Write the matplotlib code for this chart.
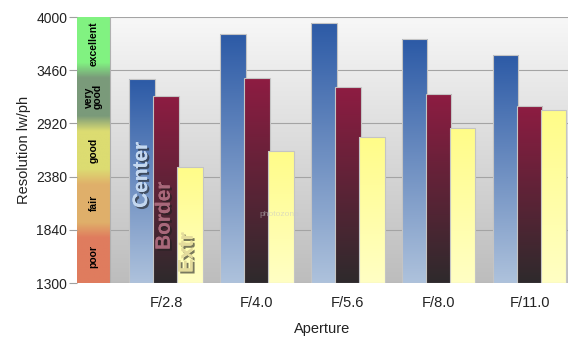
import numpy as np
import matplotlib
matplotlib.use("Agg")
import matplotlib.pyplot as plt
import matplotlib.patheffects as pe
from matplotlib.colors import to_rgb

plt.rcParams['font.family'] = ['Liberation Sans', 'DejaVu Sans']

# Resolution values (lw/ph) per aperture
apertures = ['F/2.8', 'F/4.0', 'F/5.6', 'F/8.0', 'F/11.0']
center = [3370, 3830, 3940, 3775, 3615]
border = [3200, 3380, 3285, 3220, 3100]
extreme = [2478, 2645, 2785, 2870, 3055]

yticks = [1300, 1840, 2380, 2920, 3460, 4000]
rating_names = ['poor', 'fair', 'good', 'very\ngood', 'excellent']
rating_colors = ['#e07c5e', '#e0b06a', '#dcdc72', '#7a9a7a', '#82f282']

ymin, ymax = 1300, 4000
x = np.arange(len(apertures))
xleft, band_right, xright = -0.98, -0.616, 4.42

fig = plt.figure(figsize=(5.68, 3.41), dpi=100)
ax = fig.add_axes([0.1356, 0.170, 0.864, 0.780])
ax.set_xlim(xleft, xright)
ax.set_ylim(ymin, ymax)

# plot area background: light at top, grey at bottom
bg = np.linspace(0.97, 0.74, 256)[:, None] * np.ones((1, 2))
ax.imshow(np.dstack([bg, bg, bg]), extent=[band_right, xright, ymin, ymax],
          aspect='auto', origin='upper', zorder=0)

# rating band on the left with soft transitions
ys = np.linspace(ymin, ymax, 540)
idx = np.clip(((ys - ymin) // 540).astype(int), 0, 4)
cols = np.array([to_rgb(rating_colors[i]) for i in idx])
n = 31
k = np.ones(n) / n
cols = np.stack([np.convolve(np.pad(cols[:, c], n // 2, mode='edge'), k, mode='valid')
                 for c in range(3)], axis=1)
ax.imshow(cols[:, None, :], extent=[xleft, band_right, ymin, ymax],
          aspect='auto', origin='lower', zorder=1)
for i, name in enumerate(rating_names):
    ax.text((xleft + band_right) / 2, ymin + 540 * i + 270, name, rotation=90,
            ha='center', va='center', fontsize=7.5, fontweight='bold',
            linespacing=0.85, zorder=2)
ax.axvline(band_right, color='#b0b0b0', lw=0.8, zorder=1.5)

for yt in yticks:
    ax.axhline(yt, xmin=(band_right - xleft) / (xright - xleft), color='#a4a4a4',
               lw=0.8, zorder=1)

# gradient filled bars, each series stacked above the previous one
width, step = 0.28, 0.264
series = [
    (center, -step, '#2c5aa6', '#aec2dc'),
    (border, 0.0, '#8e1c42', '#2e2a2c'),
    (extreme, step, '#fffc88', '#ffffc4'),
]
for j, (vals, off, top_c, bot_c) in enumerate(series):
    z = 3 + j
    bars = ax.bar(x + off, np.array(vals) - ymin, width, bottom=ymin,
                  facecolor='none', edgecolor='#c4c4c4', lw=0.8, zorder=z + 0.5)
    grad = np.linspace(0, 1, 256)[:, None]
    t, b = np.array(to_rgb(top_c)), np.array(to_rgb(bot_c))
    img = (t * (1 - grad) + b * grad)[:, None, :]
    for bar, v in zip(bars, vals):
        x0 = bar.get_x()
        im = ax.imshow(img, extent=[x0, x0 + width, ymin, v], aspect='auto',
                       origin='upper', zorder=z)
        im.set_clip_path(bar)

# series names written inside the first group
shadow = [pe.withSimplePatchShadow(offset=(1.5, -1.5), shadow_rgbFace='#202020', alpha=0.6),
          pe.Normal()]
ax.text(-0.27, 2400, 'Center', rotation=90, ha='center', va='center', fontsize=15,
        fontweight='bold', color='#c4d8f0', path_effects=shadow, zorder=8)
ax.text(-0.02, 1985, 'Border', rotation=90, ha='center', va='center', fontsize=15,
        fontweight='bold', color='#a8687a', path_effects=shadow, zorder=8)
ax.text(0.23, 1610, 'Extr', rotation=90, ha='center', va='center', fontsize=15,
        fontweight='bold', color='#e4dc9c', path_effects=shadow, zorder=8)

# faint watermark
ax.text(1.25, 2000, 'photozone', ha='center', va='center', fontsize=6,
        color='#c8c8c8', alpha=0.6, zorder=8)

ax.set_xticks(x)
ax.set_xticklabels(apertures, fontsize=10.5, color='#222222')
ax.tick_params(axis='x', length=0, pad=9)
ax.set_yticks(yticks)
ax.set_yticklabels([str(v) for v in yticks], fontsize=10, color='#222222')
ax.tick_params(axis='y', length=6, color='#a0a0a0', width=0.8, pad=1)
for s in ['top', 'right', 'bottom', 'left']:
    ax.spines[s].set_visible(False)

ax.set_ylabel('Resolution lw/ph', fontsize=10.5, color='#222222', labelpad=4)
ax.set_xlabel('Aperture', fontsize=10.5, color='#222222', labelpad=9)

fig.savefig('out.png', dpi=100)
